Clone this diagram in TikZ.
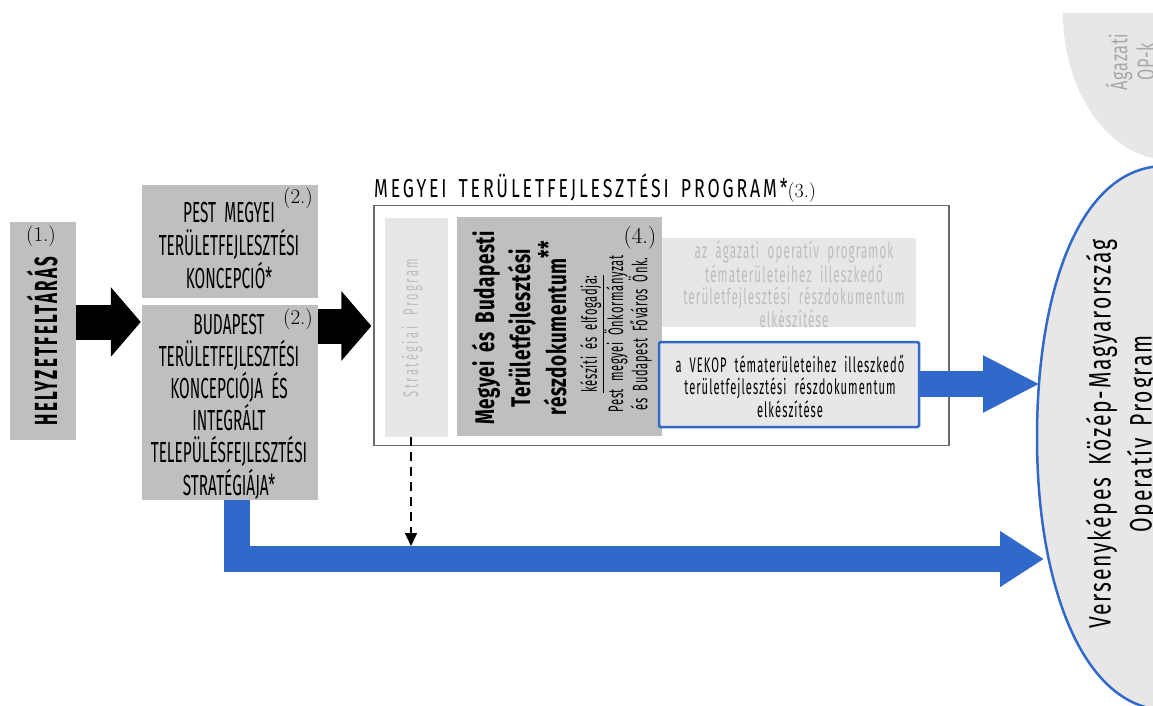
\documentclass[tikz,border=0pt]{standalone}
\usepackage{fontspec}
\newfontfamily\cf{Fira Sans}[FakeStretch=0.53,WordSpace=2]
\newfontfamily\cfw{Fira Sans}[FakeStretch=0.68,WordSpace=1.6]
\newfontfamily\cfm{Fira Sans}[FakeStretch=0.70,WordSpace=1.8]
\usetikzlibrary{arrows.meta}
\definecolor{boxgray}{HTML}{BFBFBF}
\definecolor{lightfill}{HTML}{E7E7E7}
\definecolor{vblue}{HTML}{3169CA}
\definecolor{fadetext}{HTML}{BDBDBD}
\definecolor{agtext}{HTML}{A8A8A8}
\definecolor{framegray}{HTML}{6A6A6A}
\tikzset{
  graybox/.style={fill=boxgray, inner sep=0pt},
  lightbox/.style={fill=lightfill, inner sep=0pt},
  numlabel/.style={font=\fontsize{21}{24}\selectfont, inner sep=0pt},
  blackarrow/.style={line width=35pt, black, -{Triangle[width=68pt,length=30pt]}},
  bluearrowtop/.style={line width=26pt, vblue, -{Triangle[width=53pt,length=57pt]}},
  bluearrowbot/.style={line width=26pt, vblue, line join=miter, -{Triangle[width=53pt,length=44pt]}},
  boxtext/.style={font=\cf\fontsize{29}{33}\selectfont, align=center, inner sep=0pt},
}
\begin{document}
\begin{tikzpicture}[x=1pt,y=-1pt]
\path[use as bounding box] (0,0) rectangle (1153,706);
\clip (0,0) rectangle (1153,706);
\fill[white] (0,0) rectangle (1153,706);

% top-right grey shape
\fill[lightfill] (1063,13) .. controls (1063,94) and (1111,160) .. (1170,160) -- (1170,13) -- cycle;
\node[rotate=90, font=\cfw\fontsize{24}{27}\selectfont\addfontfeatures{LetterSpace=3}, text=agtext, align=center, inner sep=0pt] (agt) at (1130,62) {Ágazati\\OP-k};

% VEKOP ellipse-like shape
\filldraw[fill=lightfill, draw=vblue, line width=2.5pt]
  (1165,166) .. controls (1080,166) and (1037,290) .. (1037,437)
  .. controls (1037,590) and (1085,708) .. (1165,710) -- (1200,710) -- (1200,166) -- cycle;
\coordinate (eltop) at (1040,384);
\coordinate (elbot) at (1044,559);
\node[rotate=90, font=\cfw\fontsize{31}{41}\selectfont\addfontfeatures{LetterSpace=6}, align=center, inner sep=0pt] (ellt) at (1122,434) {Versenyképes Közép-Magyarország\\Operatív Program};

% 1.
\node[graybox, minimum width=66pt, minimum height=218pt] (helyz) at (43,331) {};
\node[rotate=90, font=\cf\bfseries\fontsize{32}{36}\selectfont\addfontfeatures{LetterSpace=7}, inner sep=0pt] (helyzt) at (42,341) {HELYZETFELTÁRÁS};
\node[numlabel] (n1) at (41,236) {(1.)};

% 2.
\node[graybox, minimum width=176pt, minimum height=113pt] (pest) at (230,241.5) {};
\node[boxtext] (pestt) at (229,246) {PEST MEGYEI\\TERÜLETFEJLESZTÉSI\\KONCEPCIÓ*};
\node[numlabel] (n2a) at (298,198) {(2.)};

\node[graybox, minimum width=176pt, minimum height=195pt] (bud) at (230,402.5) {};
\node[boxtext, font=\cf\fontsize{29}{32.2}\selectfont] (budt) at (229,406.5) {BUDAPEST\\TERÜLETFEJLESZTÉSI\\KONCEPCIÓJA ÉS\\INTEGRÁLT\\TELEPÜLÉSFEJLESZTÉSI\\STRATÉGIÁJA*};
\node[numlabel] (n2b) at (298,319) {(2.)};

% 3. frame
\node[draw=framegray, line width=1.2pt, minimum width=575pt, minimum height=240pt, inner sep=0pt] (frame) at (661.5,325.5) {};
\node[anchor=base west, inner sep=0pt, font=\cfw\fontsize{26}{30}\selectfont\addfontfeatures{LetterSpace=11}] (title) at (374,197) {MEGYEI TERÜLETFEJLESZTÉSI PROGRAM*{\rmfamily\fontsize{20}{22}\selectfont(3.)}};

% strategiai column
\node[lightbox, minimum width=63pt, minimum height=219pt] (strat) at (416.5,327.5) {};
\node[rotate=90, text=fadetext, font=\cf\fontsize{21}{24}\selectfont\addfontfeatures{LetterSpace=12}, inner sep=0pt] (stratt) at (412,328) {Stratégiai Program};

% 4. box
\node[graybox, minimum width=205pt, minimum height=219pt] (megy) at (559.5,326.5) {};
\node[rotate=90, font=\cfm\bfseries\fontsize{27}{36}\selectfont\addfontfeatures{LetterSpace=2}, align=center, inner sep=0pt] (megyt) at (519,328) {Megyei és Budapesti\\Területfejlesztési\\részdokumentum\raisebox{8pt}{**}};
\node[rotate=90, font=\cf\fontsize{21}{19}\selectfont\addfontfeatures{LetterSpace=3}, align=center, inner sep=0pt] (megys) at (616,334) {\underline{készíti és elfogadja:}\\Pest megyei Önkormányzat\\és Budapest Főváros Önk.};
\node[numlabel, font=\fontsize{23}{25}\selectfont] (n4) at (640,238) {(4.)};

% grey sub box
\node[lightbox, minimum width=254pt, minimum height=89pt] (ag) at (789,282.5) {};
\node[text=fadetext, font=\cf\fontsize{22}{22.5}\selectfont\addfontfeatures{LetterSpace=5}, align=center, inner sep=0pt] (agtt) at (794,284) {az ágazati operatív programok\\tématerületeihez illeszkedő\\területfejlesztési részdokumentum\\elkészítése};

% VEKOP box
\node[fill=lightfill, draw=vblue, line width=2.5pt, rounded corners=1.5pt, minimum width=260pt, minimum height=85pt, inner sep=0pt] (vek) at (789,384.5) {};
\node[font=\cf\fontsize{21}{22.5}\selectfont\addfontfeatures{LetterSpace=5}, align=center, inner sep=0pt] (vekt) at (790,386) {a VEKOP tématerületeihez illeszkedő\\területfejlesztési részdokumentum\\elkészítése};

% arrows
\coordinate (a1) at (0,322);
\coordinate (a2) at (0,326);
\draw[blackarrow] (helyz.east |- a1) -- ([xshift=-1pt]bud.west |- a1);
\draw[blackarrow] (bud.east |- a2) -- ([xshift=-2pt]frame.west |- a2);
\draw[bluearrowtop] (vek.east |- eltop) -- (eltop);
\coordinate (bshaft) at (237,559);
\draw[bluearrowbot] (bud.south -| bshaft) |- (elbot);
\coordinate (dend) at (411,546);
\draw[line width=1.6pt, dash pattern=on 9pt off 6pt, -{Triangle[width=12pt,length=13pt]}] (strat.south -| dend) -- (dend);
\end{tikzpicture}
\end{document}
